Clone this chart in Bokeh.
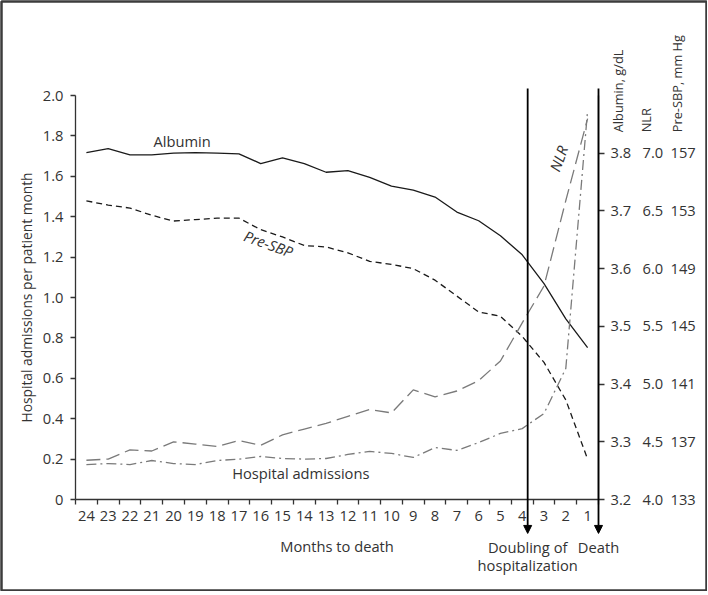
import math
from bokeh.plotting import figure
from bokeh.models import (Range1d, LinearAxis, FixedTicker, PrintfTickFormatter,
                          Label, Arrow, NormalHead, ColumnDataSource)
from bokeh.embed import file_html
from bokeh.resources import INLINE

# ---------------- data ----------------
months = [24, 23, 22, 21, 20, 19, 18, 17, 16, 15, 14, 13, 12, 11, 10, 9, 8, 7, 6, 5, 4, 3, 2, 1]
month_labels = [str(m) for m in months]

albumin = [3.801, 3.808, 3.797, 3.797, 3.800, 3.801, 3.800, 3.799, 3.782, 3.792, 3.782, 3.767,
           3.770, 3.758, 3.743, 3.736, 3.724, 3.698, 3.683, 3.657, 3.624, 3.574, 3.513, 3.463]
pre_sbp = [153.7, 153.4, 153.2, 152.7, 152.3, 152.4, 152.5, 152.5, 151.7, 151.2, 150.6, 150.5,
           150.1, 149.5, 149.3, 149.0, 148.2, 147.1, 146.0, 145.7, 144.3, 142.5, 139.9, 135.8]
nlr = [4.34, 4.35, 4.43, 4.42, 4.50, 4.48, 4.46, 4.51, 4.47, 4.56, 4.61, 4.66,
       4.72, 4.78, 4.75, 4.95, 4.89, 4.94, 5.03, 5.20, 5.53, 5.85, 6.59, 7.30]
admissions = [0.173, 0.178, 0.173, 0.193, 0.178, 0.173, 0.193, 0.200, 0.213, 0.203, 0.200, 0.203,
              0.223, 0.238, 0.228, 0.208, 0.257, 0.243, 0.282, 0.327, 0.351, 0.426, 0.649, 1.926]

left_ticks = [0, 0.2, 0.4, 0.6, 0.8, 1.0, 1.2, 1.4, 1.6, 1.8, 2.0]
left_tick_labels = ["0", "0.2", "0.4", "0.6", "0.8", "1.0", "1.2", "1.4", "1.6", "1.8", "2.0"]
albumin_ticks = [3.2, 3.3, 3.4, 3.5, 3.6, 3.7, 3.8]
nlr_ticks = [4.0, 4.5, 5.0, 5.5, 6.0, 6.5, 7.0]
sbp_ticks = [133, 137, 141, 145, 149, 153, 157]

left_span = (0.0, 2.0)
albumin_span = (3.2, 3.9)
nlr_span = (4.0, 7.5)
sbp_span = (133, 161)

doubling_month = 3.75
death_month = 0.5

# ---------------- layout ----------------
W, H = 707, 591
PAD = 1                                   # frame spans the whole canvas (its outline is the border)
AX_L, AX_R, AX_T, AX_B = 75, 598, 95, 499  # canvas px of the axes box

x_lo, x_hi = months[0] + 0.5, months[-1] - 0.5   # values at AX_L, AX_R


def span_to_frame(v_at_a, v_at_b, a, b, f0, f1):
    k = (v_at_b - v_at_a) / (b - a)
    return v_at_a + (f0 - a) * k, v_at_a + (f1 - a) * k


xs0, xs1 = span_to_frame(x_lo, x_hi, AX_L, AX_R, PAD, W - PAD)


def yrange(span):
    lo, hi = span
    bot, top = span_to_frame(lo, hi, AX_B, AX_T, H - PAD, PAD)
    return Range1d(bot, top)


FONT = "Open Sans"
FS = "14.7px"
TXT = "#333333"
AX = "#333333"

src = ColumnDataSource(dict(month=months, albumin=albumin, pre_sbp=pre_sbp,
                            nlr=nlr, admissions=admissions))

p = figure(width=W, height=H, title=None,
           x_range=Range1d(xs0, xs1), y_range=yrange(left_span),
           output_backend="svg", toolbar_location=None,
           min_border_left=PAD, min_border_top=PAD, min_border_bottom=PAD, min_border_right=PAD)
p.outline_line_color = "#3c3c3c"
p.outline_line_width = 2.5
p.grid.visible = False
p.background_fill_color = "white"

p.extra_y_ranges = {"alb": yrange(albumin_span), "nlr": yrange(nlr_span), "sbp": yrange(sbp_span)}


def style_axis(ax):
    ax.major_label_text_font = FONT
    ax.major_label_text_font_size = FS
    ax.major_label_text_color = TXT
    ax.axis_label_text_font = FONT
    ax.axis_label_text_font_size = FS
    ax.axis_label_text_color = TXT
    ax.axis_label_text_font_style = "normal"
    ax.axis_line_color = AX
    ax.axis_line_width = 1.3
    ax.major_tick_line_color = AX
    ax.major_tick_line_width = 1.3
    ax.minor_tick_line_color = AX
    ax.minor_tick_line_width = 1.3


# x axis: labels at month centres, tick marks at month edges
xa = p.xaxis[0]
style_axis(xa)
xa.fixed_location = left_span[0]
xa.bounds = (x_hi, x_lo)
xa.ticker = FixedTicker(ticks=months,
                        minor_ticks=[m + 0.5 for m in months] + [months[-1] - 0.5])
xa.major_label_overrides = {m: l for m, l in zip(months, month_labels)}
xa.major_tick_line_color = None
xa.major_tick_out = 5
xa.major_tick_in = 0
xa.minor_tick_out = 5
xa.minor_tick_in = 0
xa.major_label_standoff = 6
xa.axis_label = "Months to death"
xa.axis_label_standoff = 12

ya = p.yaxis[0]
style_axis(ya)
ya.fixed_location = x_lo
ya.bounds = left_span
ya.ticker = FixedTicker(ticks=left_ticks)
ya.major_label_overrides = {t: l for t, l in zip(left_ticks, left_tick_labels)}
ya.major_tick_out = 5
ya.major_tick_in = 0
ya.major_label_standoff = 7
ya.axis_label = "Hospital admissions per patient month"
ya.axis_label_text_font_size = "13.8px"
ya.axis_label_standoff = 4

ax1 = LinearAxis(y_range_name="alb", ticker=FixedTicker(ticks=albumin_ticks),
                 formatter=PrintfTickFormatter(format="%.1f"),
                 fixed_location=x_hi, bounds=albumin_span)
style_axis(ax1)
ax1.major_tick_out = 6
ax1.major_tick_in = 0
ax1.major_label_standoff = 6

ax2 = LinearAxis(y_range_name="nlr", ticker=FixedTicker(ticks=nlr_ticks),
                 formatter=PrintfTickFormatter(format="%.1f"),
                 fixed_location=x_hi, bounds=nlr_span)
style_axis(ax2)
ax2.axis_line_color = None
ax2.major_tick_line_color = None
ax2.major_tick_out = 0
ax2.major_tick_in = 0
ax2.major_label_standoff = 44

ax3 = LinearAxis(y_range_name="sbp", ticker=FixedTicker(ticks=sbp_ticks),
                 formatter=PrintfTickFormatter(format="%d"),
                 fixed_location=x_hi, bounds=sbp_span)
style_axis(ax3)
ax3.axis_line_color = None
ax3.major_tick_line_color = None
ax3.major_tick_out = 0
ax3.major_tick_in = 0
ax3.major_label_standoff = 72

p.add_layout(ax1, "right")
p.add_layout(ax2, "right")
p.add_layout(ax3, "right")

# ---------------- series ----------------
p.line("month", "albumin", source=src, y_range_name="alb", line_color="#1a1a1a", line_width=1.3)
p.line("month", "pre_sbp", source=src, y_range_name="sbp", line_color="#1a1a1a",
       line_width=1.3, line_dash="6 4")
p.line("month", "nlr", source=src, y_range_name="nlr", line_color="#7a7a7a",
       line_width=1.3, line_dash="14 6")
p.line("month", "admissions", source=src, line_color="#7a7a7a",
       line_width=1.3, line_dash="10 4 2 4")

# ---------------- arrows ----------------
for xm in (doubling_month, death_month):
    p.add_layout(Arrow(end=NormalHead(size=8, fill_color="black", line_color="black", line_width=1),
                       x_start=xm, y_start=2.035, x_end=xm, y_end=-0.168,
                       line_color="black", line_width=1.8))


# ---------------- texts ----------------
def lab(x, y, text, align="left", baseline="middle", angle=0.0, style="normal", size=FS):
    p.add_layout(Label(x=x, y=y, text=text, text_font=FONT, text_font_size=size,
                       text_color=TXT, text_align=align, text_baseline=baseline,
                       angle=angle, text_font_style=style))


lab(20.92, 1.777, "Albumin")
lab(15.64, 1.267, "Pre-SBP", align="center", angle=-0.35, style="italic")
lab(2.34, 1.688, "NLR", align="center", angle=1.22, style="italic")
lab(17.31, 0.129, "Hospital admissions")
lab(doubling_month, -0.235, "Doubling of", align="center")
lab(doubling_month, -0.325, "hospitalization", align="center")
lab(death_month, -0.235, "Death", align="center")
lab(-0.395, 1.818, "Albumin, g/dL", angle=math.pi / 2, size="12.8px")
lab(-1.70, 1.818, "NLR", angle=math.pi / 2, size="12.8px")
lab(-3.08, 1.818, "Pre-SBP, mm Hg", angle=math.pi / 2, size="12.8px")

open("out.html", "w").write(file_html(p, INLINE))
